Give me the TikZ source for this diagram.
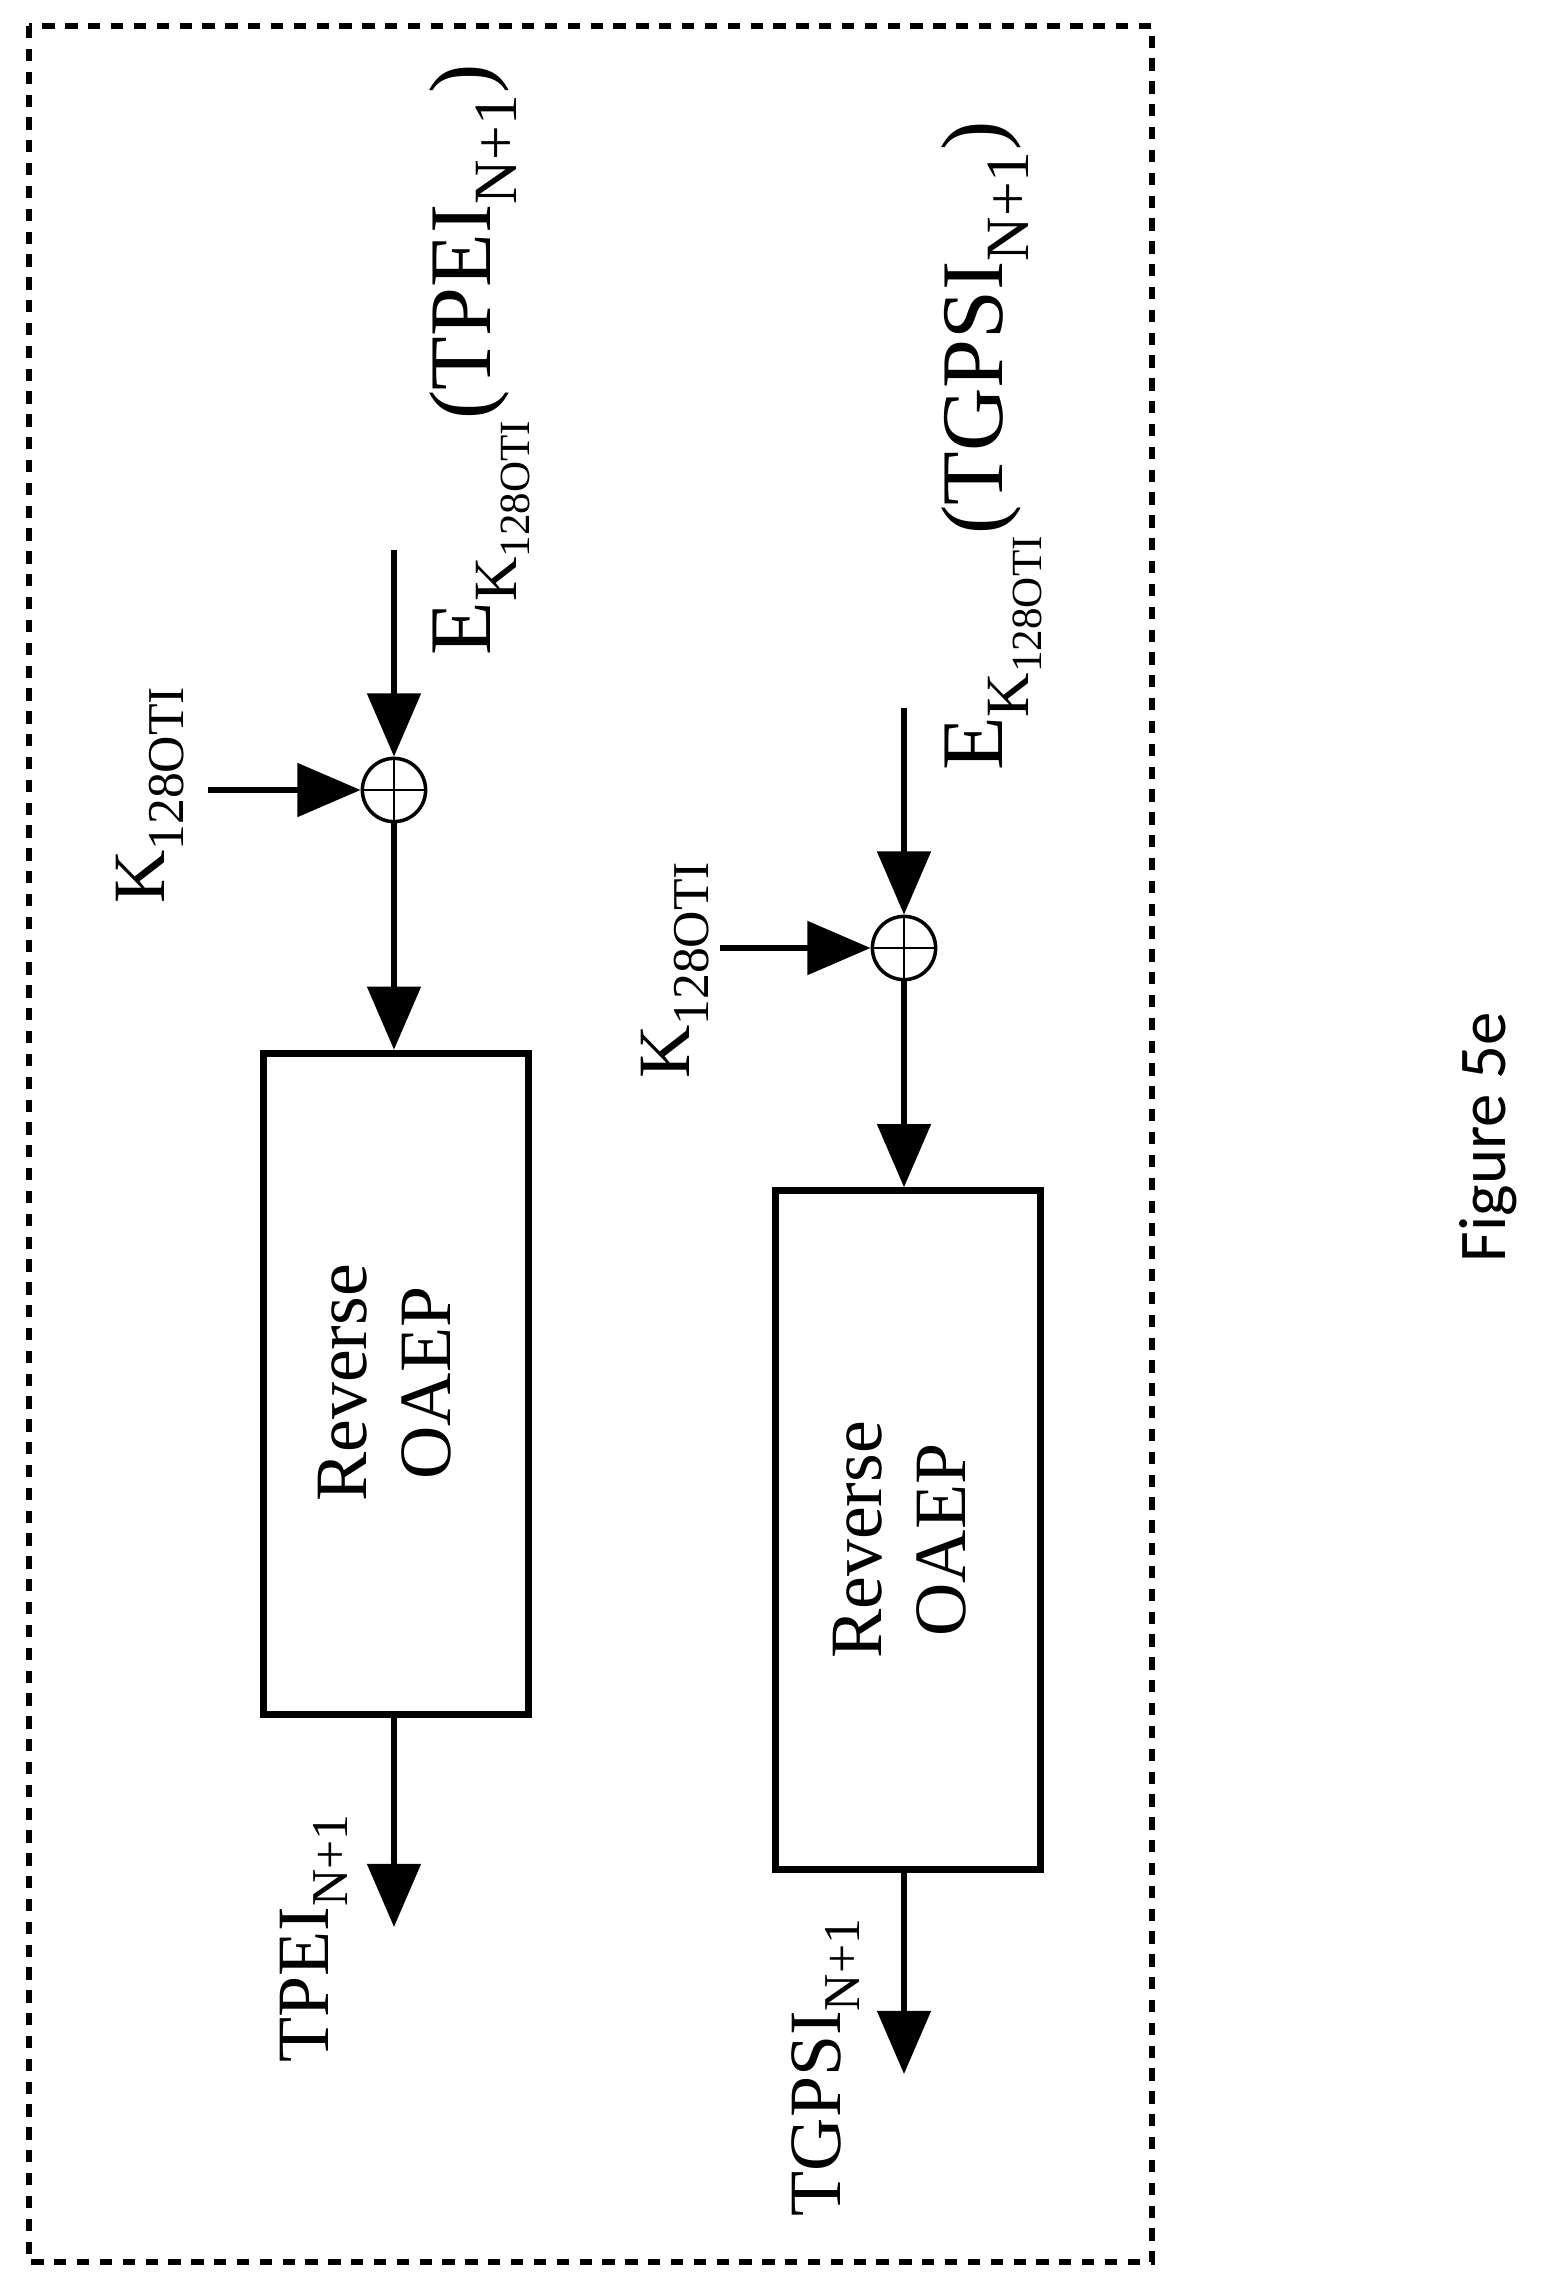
\documentclass[tikz,border=0pt]{standalone}
\usepackage{fontspec}
\setmainfont{Liberation Serif}
\newfontfamily\figfont{Carlito}
\usetikzlibrary{arrows.meta}
\begin{document}
\begin{tikzpicture}[x=0.02cm,y=-0.02cm,
  ln/.style={line width=3.5pt,-{Triangle[length=36pt,width=30pt]}},
  box/.style={draw,line width=4pt},
  xo/.style={circle,draw,line width=2pt,minimum size=36pt,inner sep=0pt,path picture={\draw[line width=1.5pt] (path picture bounding box.north)--(path picture bounding box.south) (path picture bounding box.west)--(path picture bounding box.east);}},
  lbl/.style={rotate=90,font=\fontsize{42}{48}\selectfont,inner sep=0pt},
  elbl/.style={rotate=90,font=\fontsize{50}{56}\selectfont,inner sep=0pt}]
\useasboundingbox (0,0) rectangle (1546,2277);
\draw[line width=3.5pt,dash pattern=on 7pt off 6pt] (29,26) rectangle (1152,2262);
% first chain
\node[box,minimum width=266*0.567pt,minimum height=664*0.567pt] (b1) at (396,1384) {};
\node[lbl,align=center] (t1) at (385,1383) {Reverse\\OAEP};
\node[xo] (x1) at (394,790) {};
\coordinate (k1s) at (208,790);
\coordinate (e1s) at (394,550);
\coordinate (o1) at (394,1927);
\draw[ln] (k1s) -- (x1.west);
\draw[ln] (e1s) -- (x1.north);
\draw[ln] (x1.south) -- (b1.north-|x1);
\draw[ln] (b1.south-|x1) -- (o1);
\node[lbl] (k1) at (150,795) {K\textsubscript{128OTI}};
\node[elbl] (e1) at (480,360) {E\textsubscript{K\textsubscript{128OTI}}(TPEI\textsubscript{N+1})};
\node[lbl] (p1) at (314,1938) {TPEI\textsubscript{N+1}};
% second chain
\node[box,minimum width=266*0.567pt,minimum height=681*0.567pt] (b2) at (908,1530) {};
\node[lbl,align=center] (t2) at (900,1540) {Reverse\\OAEP};
\node[xo] (x2) at (904,948) {};
\coordinate (k2s) at (720,948);
\coordinate (e2s) at (904,708);
\coordinate (o2) at (904,2074);
\draw[ln] (k2s) -- (x2.west);
\draw[ln] (e2s) -- (x2.north);
\draw[ln] (x2.south) -- (b2.north-|x2);
\draw[ln] (b2.south-|x2) -- (o2);
\node[lbl] (k2) at (675,970) {K\textsubscript{128OTI}};
\node[elbl] (e2) at (992,446) {E\textsubscript{K\textsubscript{128OTI}}(TGPSI\textsubscript{N+1})};
\node[lbl] (p2) at (826,2067) {TGPSI\textsubscript{N+1}};
\node[rotate=90,font=\figfont\fontsize{38}{44}\selectfont] (fig) at (1488,1137) {Figure 5e};
\end{tikzpicture}
\end{document}
